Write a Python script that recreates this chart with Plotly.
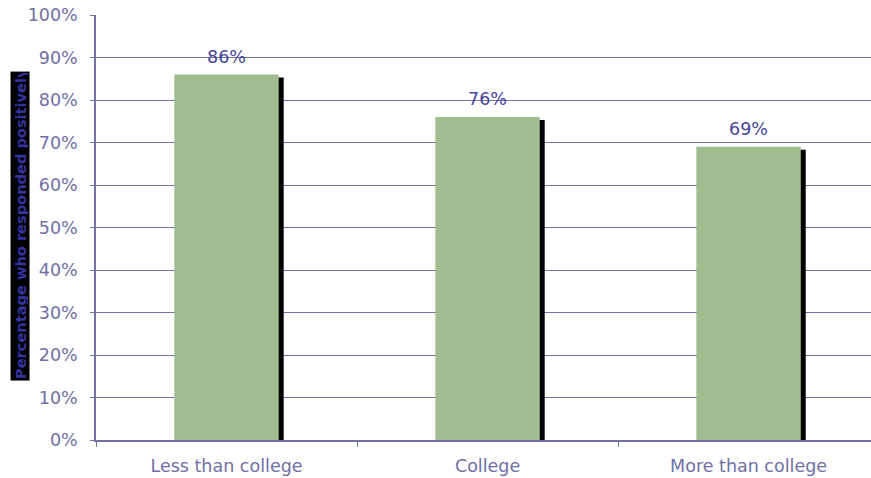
import plotly.graph_objects as go

# Survey results by education level
categories = ["Less than college", "College", "More than college"]
values = [86, 76, 69]
labels = ["86%", "76%", "69%"]
y_ticks = list(range(0, 101, 10))
y_ticktext = [f"{v}%" for v in y_ticks]

BAR_W = 0.40
SHADOW_DX = 0.019   # horizontal shadow shift (category units)
SHADOW_DY = 0.7     # vertical shadow drop (percentage points)

AXIS = "#7171A6"
TICK_TXT = "#7070A4"
LABEL_TXT = "#45459A"
FONT = "DejaVu Sans"
FS = 17.5

fig = go.Figure()

# drop shadow behind each bar
fig.add_trace(go.Bar(
    x=categories, y=[v - SHADOW_DY for v in values],
    width=BAR_W, offset=-BAR_W / 2 + SHADOW_DX,
    marker=dict(color="#000000", line=dict(width=0)),
    hoverinfo="skip", showlegend=False,
))

# main bars
fig.add_trace(go.Bar(
    x=categories, y=values,
    width=BAR_W, offset=-BAR_W / 2,
    marker=dict(color="#A1BC8F", line=dict(width=0)),
    showlegend=False,
))

# value labels above the bars
annotations = [
    dict(x=c, y=v, xref="x", yref="y", text=t, showarrow=False,
         xanchor="center", yanchor="bottom", yshift=6,
         font=dict(family=FONT, size=FS, color=LABEL_TXT))
    for c, v, t in zip(categories, values, labels)
]

# y-axis title on a black band
annotations.append(dict(
    text="<b>Percentage who responded positively</b>",
    xref="paper", yref="paper",
    x=-0.098, y=0.5035, xanchor="center", yanchor="middle",
    textangle=-90, showarrow=False, align="left",
    width=306, height=16,
    bgcolor="#000000", borderpad=1,
    font=dict(family=FONT, size=14.6, color="#3434A0"),
))

fig.update_layout(
    width=871, height=478,
    margin=dict(l=96, r=0, t=15, b=38),
    barmode="overlay",
    plot_bgcolor="white", paper_bgcolor="white",
    font=dict(family=FONT, size=FS, color=TICK_TXT),
    xaxis=dict(
        type="category", range=[-0.5, 2.469],
        tickson="boundaries", ticks="outside", ticklen=5, tickcolor=AXIS,
        showline=True, linecolor=AXIS, linewidth=1.5,
        showgrid=False, tickfont=dict(family=FONT, size=FS, color=TICK_TXT),
        ticklabelstandoff=9,
        fixedrange=True,
    ),
    yaxis=dict(
        range=[0, 100], tickvals=y_ticks, ticktext=y_ticktext,
        ticks="outside", ticklen=4, tickcolor=AXIS,
        showline=True, linecolor=AXIS, linewidth=1.5,
        showgrid=True, gridcolor=AXIS, gridwidth=1,
        tickfont=dict(family=FONT, size=FS, color=TICK_TXT),
        ticklabelstandoff=9,
        zeroline=False, fixedrange=True,
    ),
    annotations=annotations,
)

fig.write_html("out.html")
